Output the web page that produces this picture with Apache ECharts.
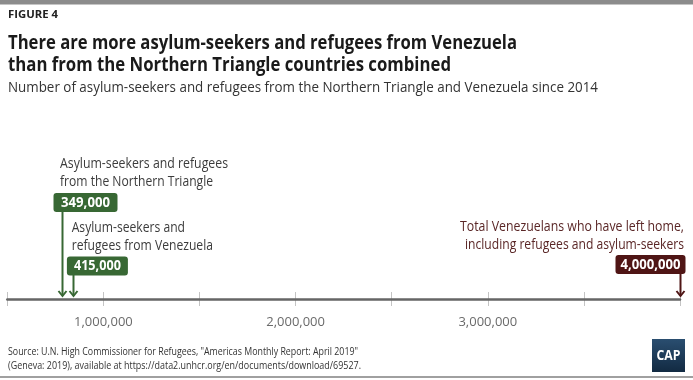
<!DOCTYPE html>
<html>
<head>
<meta charset="utf-8">
<script src="https://cdn.jsdelivr.net/npm/echarts@6/dist/echarts.min.js"></script>
<style>
html,body{margin:0;padding:0;background:#fff;}
#chart{width:693px;height:380px;}
</style>
</head>
<body>
<div id="chart"></div>
<script>
// ---- data ----
const categories = ['Northern Triangle', 'Venezuela (asylum-seekers and refugees)', 'Venezuelans who have left home'];
const values = [349000, 415000, 4000000];
// where the reference figure places each arrow on the number line
const arrowPositions = [786000, 843000, 4000000];
const labelLines = [
  ['Asylum-seekers and refugees', 'from the Northern Triangle'],
  ['Asylum-seekers and', 'refugees from Venezuela'],
  ['Total Venezuelans who have left home,', 'including refugees and asylum-seekers']
];
const axisMin = 500000;
const axisMax = 4000000;
const tickStep = 500000;
const labeledTicks = [1000000, 2000000, 3000000];

const titleText = ['There are more asylum-seekers and refugees from Venezuela',
                   'than from the Northern Triangle countries combined'];
const subtitleText = 'Number of asylum-seekers and refugees from the Northern Triangle and Venezuela since 2014';
const figureText = 'FIGURE 4';
const sourceText = ['Source: U.N. High Commissioner for Refugees, "Americas Monthly Report: April 2019"',
                    '(Geneva: 2019), available at https://data2.unhcr.org/en/documents/download/69527.'];

// ---- styling helpers ----
const FONT = '"Open Sans", "Noto Sans", sans-serif';
const GREEN = '#386834';
const MAROON = '#4f1515';
const mctx = document.createElement('canvas').getContext('2d');
function measure(text, size, weight) {
  mctx.font = weight + ' ' + size + 'px ' + FONT;
  return mctx.measureText(text).width;
}
function fitText(text, x, y, size, weight, color, width, align) {
  const s = width / measure(text, size, weight);
  return {
    type: 'text', x: x, y: y, scaleX: s, silent: true,
    style: {
      text: text, fontSize: size, fontWeight: weight, fontFamily: FONT, fill: color,
      textAlign: align || 'left', align: align || 'left',
      textVerticalAlign: 'middle', verticalAlign: 'middle'
    }
  };
}

const graphics = [
  { type: 'rect', shape: { x: 0, y: 0, width: 693, height: 4.5 }, style: { fill: '#8c8c8c' }, silent: true },
  { type: 'rect', shape: { x: 0, y: 376, width: 693, height: 2 }, style: { fill: '#a0a0a0' }, silent: true },
  fitText(figureText, 8, 15.5, 10.5, 'bold', '#222', 50),
  fitText(titleText[0], 8, 43.5, 20, 'bold', '#1a1a1a', 509),
  fitText(titleText[1], 8, 65, 20, 'bold', '#1a1a1a', 443),
  fitText(subtitleText, 8, 87.5, 14.5, 'normal', '#333', 590),
  fitText(labelLines[0][0], 60, 163.5, 14.5, 'normal', '#3c3c3c', 168),
  fitText(labelLines[0][1], 60, 181.5, 14.5, 'normal', '#3c3c3c', 153),
  fitText(labelLines[1][0], 71.7, 227.5, 14.5, 'normal', '#3c3c3c', 113.3),
  fitText(labelLines[1][1], 71.7, 245.5, 14.5, 'normal', '#3c3c3c', 141.3),
  fitText(labelLines[2][0], 684, 227, 14.5, 'normal', '#5a2626', 224, 'right'),
  fitText(labelLines[2][1], 684, 245, 14.5, 'normal', '#5a2626', 219, 'right'),
  fitText(sourceText[0], 8, 352, 10.5, 'normal', '#333', 350),
  fitText(sourceText[1], 8, 366.5, 10.5, 'normal', '#333', 353),
  { type: 'rect', shape: { x: 652, y: 339, width: 33, height: 33 }, silent: true,
    style: { fill: { type: 'linear', x: 0, y: 0, x2: 0, y2: 1,
      colorStops: [{ offset: 0, color: '#2a4e70' }, { offset: 1, color: '#122a42' }] } } },
  fitText('CAP', 668.5, 356, 14, 'bold', '#ffffff', 24, 'center')
];

// per-mark box geometry (relative to the arrow's x) and colours
const boxGeom = [
  { left: -9, right: 55, top: 193, h: 19, color: GREEN, tw: 49 },
  { left: -6.6, right: 54.4, top: 256.5, h: 19, color: GREEN, tw: 47 },
  { left: -65, right: 5, top: 255, h: 19, color: MAROON, tw: 60 }
];

const seriesData = arrowPositions.map((p, i) => [p, 0, values[i]]);

const chart = echarts.init(document.getElementById('chart'), null, { renderer: 'canvas' });
chart.setOption({
  animation: false,
  backgroundColor: '#ffffff',
  grid: { left: 7.3, right: 13, top: 292, height: 14, containLabel: false },
  xAxis: {
    type: 'value', min: axisMin, max: axisMax, interval: tickStep,
    axisLine: { show: true, onZero: true, lineStyle: { color: '#666', width: 2.5 } },
    axisTick: { show: false },
    splitLine: { show: true, lineStyle: { color: '#c4c4c4', width: 1 } },
    axisLabel: {
      margin: 10, color: '#6a6a6a', fontSize: 13, fontFamily: FONT,
      showMinLabel: false, showMaxLabel: false,
      formatter: v => labeledTicks.indexOf(v) >= 0 ? v.toLocaleString('en-US') : ''
    }
  },
  yAxis: { type: 'value', min: -1, max: 1, show: false, splitLine: { show: false } },
  series: [{
    type: 'custom',
    coordinateSystem: 'cartesian2d',
    data: seriesData,
    clip: false,
    renderItem: function (params, api) {
      const i = params.dataIndex;
      const g = boxGeom[i];
      const pt = api.coord([api.value(0), 0]);
      const x = Math.round(pt[0]) + 0.5;
      const tip = pt[1] - 2;
      const boxBottom = g.top + g.h;
      const label = api.value(2).toLocaleString('en-US');
      const sx = g.tw / measure(label, 14, 'bold');
      return {
        type: 'group',
        children: [
          { type: 'line', shape: { x1: x, y1: boxBottom - 1, x2: x, y2: tip - 1 },
            style: { stroke: g.color, lineWidth: 2 } },
          { type: 'polyline', shape: { points: [[x - 4, tip - 6], [x, tip - 1], [x + 4, tip - 6]] },
            style: { stroke: g.color, lineWidth: 2, fill: null } },
          { type: 'rect', shape: { x: x + g.left, y: g.top, width: g.right - g.left, height: g.h, r: 3 },
            style: { fill: g.color } },
          { type: 'text', x: x + (g.left + g.right) / 2, y: g.top + g.h / 2 + 0.5, scaleX: sx,
            style: { text: label, fill: '#fff', fontSize: 14, fontWeight: 'bold', fontFamily: FONT,
                     textAlign: 'center', align: 'center', textVerticalAlign: 'middle', verticalAlign: 'middle' } }
        ]
      };
    }
  }],
  graphic: graphics
});
</script>
</body>
</html>
